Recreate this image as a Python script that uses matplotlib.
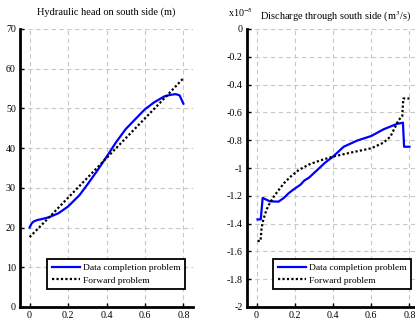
import matplotlib
matplotlib.use("Agg")
import matplotlib.pyplot as plt
from matplotlib.ticker import FuncFormatter

# ---- values ----
# left panel: hydraulic head (m)
head_x_dc = [0, 0.01, 0.02, 0.04, 0.06, 0.1, 0.15, 0.2, 0.26, 0.3, 0.35, 0.4,
             0.45, 0.5, 0.53, 0.6, 0.65, 0.7, 0.73, 0.76, 0.78, 0.8]
head_y_dc = [20, 21, 21.5, 21.9, 22.1, 22.6, 23.6, 25.3, 28.2, 30.8, 34.2, 37.8,
             41.5, 44.8, 46.3, 49.8, 51.6, 53.0, 53.4, 53.6, 53.3, 51.2]
head_x_fw = [0, 0.1, 0.2, 0.3, 0.4, 0.5, 0.6, 0.7, 0.8]
head_y_fw = [17.6, 22.5, 27.5, 32.5, 37.5, 42.5, 47.5, 52.5, 57.6]

# right panel: discharge (x1e-5 m^3/s)
q_x_dc = [0.005, 0.022, 0.032, 0.047, 0.07, 0.115, 0.143, 0.169, 0.195, 0.23,
          0.25, 0.274, 0.317, 0.36, 0.4, 0.456, 0.526, 0.6, 0.664, 0.734, 0.766,
          0.772, 0.8]
q_y_dc = [-1.37, -1.37, -1.215, -1.225, -1.24, -1.242, -1.215, -1.18, -1.153,
          -1.12, -1.09, -1.07, -1.015, -0.96, -0.918, -0.847, -0.803, -0.77,
          -0.722, -0.683, -0.674, -0.847, -0.847]
q_x_fw = [0.005, 0.021, 0.026, 0.035, 0.052, 0.064, 0.09, 0.116, 0.143, 0.178,
          0.221, 0.274, 0.334, 0.4, 0.491, 0.6, 0.664, 0.70, 0.726, 0.743,
          0.762, 0.768, 0.8]
q_y_fw = [-1.525, -1.525, -1.434, -1.374, -1.30, -1.266, -1.206, -1.158, -1.11,
          -1.062, -1.014, -0.975, -0.945, -0.918, -0.89, -0.858, -0.818, -0.775,
          -0.703, -0.655, -0.63, -0.5, -0.5]

x_ticks = [0, 0.2, 0.4, 0.6, 0.8]
head_ticks = [0, 10, 20, 30, 40, 50, 60, 70]
q_ticks = [0, -0.2, -0.4, -0.6, -0.8, -1, -1.2, -1.4, -1.6, -1.8, -2]

labels = ["Data completion problem", "Forward problem"]

plt.rcParams["font.family"] = ["Liberation Serif", "DejaVu Serif"]
plt.rcParams["axes.unicode_minus"] = False
plt.rcParams["mathtext.fontset"] = "stix"

fig = plt.figure(figsize=(4.15, 3.22), dpi=100)
ax1 = fig.add_axes([20 / 415, 15 / 322, 173 / 415, 278 / 322])
ax2 = fig.add_axes([247 / 415, 15 / 322, 172 / 415, 278 / 322])


def style(ax, yticks):
    ax.set_xlim(-0.05, 0.85)
    ax.set_xticks(x_ticks)
    ax.set_yticks(yticks)
    ax.xaxis.set_major_formatter(FuncFormatter(lambda v, p: "%g" % v))
    ax.yaxis.set_major_formatter(FuncFormatter(lambda v, p: "%g" % round(v, 2)))
    ax.grid(True, color="#c8c8c8", linestyle=(0, (4, 3)), linewidth=0.8)
    ax.set_axisbelow(True)
    for s in ["top", "right"]:
        ax.spines[s].set_visible(False)
    for s in ["left", "bottom"]:
        ax.spines[s].set_linewidth(2)
    ax.tick_params(direction="in", length=3, width=1, labelsize=7.2, pad=3)
    leg = ax.legend(labels, loc="lower right", bbox_to_anchor=(0.955, 0.065),
                    fontsize=6.8, fancybox=False, framealpha=1, handlelength=3.0,
                    borderpad=0.45, labelspacing=0.4, handletextpad=0.35,
                    borderaxespad=0)
    leg.get_frame().set_edgecolor("black")
    leg.get_frame().set_linewidth(1.3)
    return leg


ax1.plot(head_x_dc, head_y_dc, color="blue", lw=1.6)
ax1.plot(head_x_fw, head_y_fw, color="black", lw=1.6, linestyle=(0, (1, 1)))
ax1.set_ylim(0, 70)
style(ax1, head_ticks)
ax1.set_title("Hydraulic head on south side (m)", fontsize=7.5, pad=10)

ax2.plot(q_x_dc, q_y_dc, color="blue", lw=1.6)
ax2.plot(q_x_fw, q_y_fw, color="black", lw=1.6, linestyle=(0, (1, 1)))
ax2.set_ylim(-2, 0)
style(ax2, q_ticks)
fig.text(336 / 415, 1 - 17 / 322, "Discharge through south side (m$^3$/s)",
         fontsize=7.5, ha="center", va="center")
fig.text(228 / 415, 1 - 12 / 322, "x10$^{-5}$", fontsize=7.2, ha="left", va="center")

fig.savefig("out.png", dpi=100)
